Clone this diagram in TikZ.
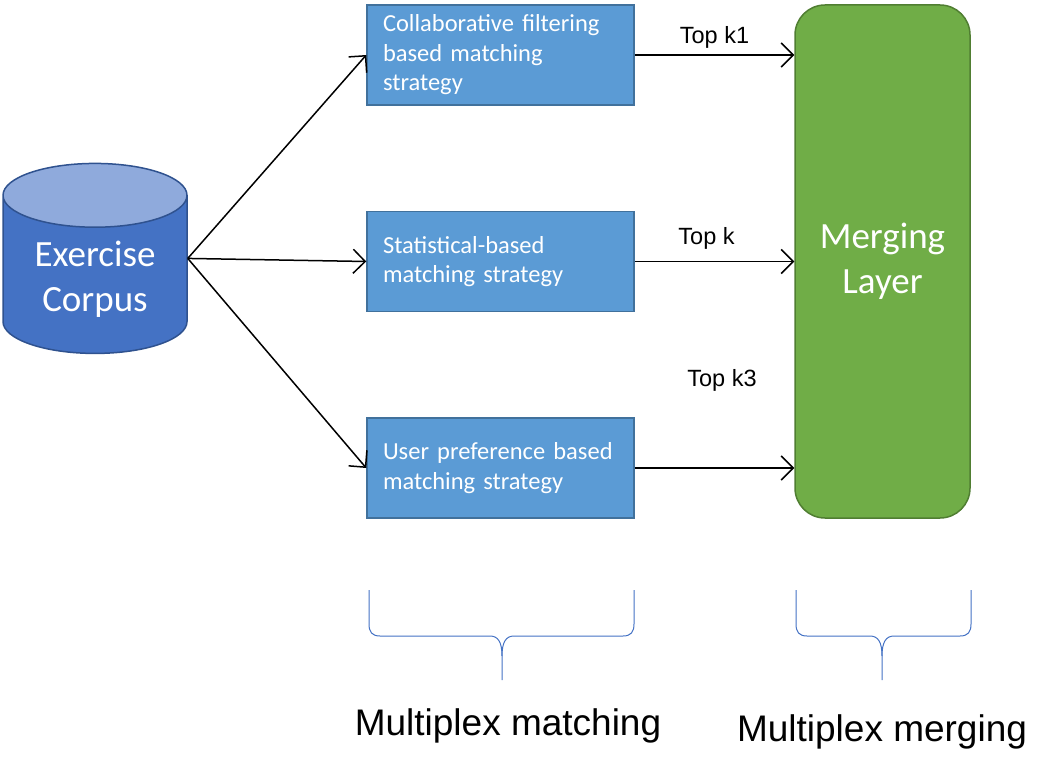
\documentclass[tikz,border=0pt]{standalone}
\usepackage{fontspec}
\setmainfont{Liberation Sans}
\newfontfamily\calibri{Carlito}
\usetikzlibrary{shapes.geometric,arrows.meta}

\definecolor{corpusblue}{HTML}{4472C4}
\definecolor{corpustop}{HTML}{8FAADC}
\definecolor{corpusline}{HTML}{2F528F}
\definecolor{boxblue}{HTML}{5B9BD5}
\definecolor{boxline}{HTML}{41719C}
\definecolor{mergegreen}{HTML}{70AD47}
\definecolor{mergeline}{HTML}{507E32}

\tikzset{
  strategy/.style={draw=boxline,line width=1.5pt,fill=boxblue,text=white,
    font=\calibri\fontsize{24.5}{29.5}\selectfont,align=left,
    minimum width=267pt,minimum height=100pt,text width=235pt,inner xsep=16pt},
  topk/.style={font=\fontsize{23.5}{28}\selectfont},
  flow/.style={line width=1.5pt,-{Straight Barb[length=12pt,width=24pt,line width=1.5pt]}},
  bracket/.style={draw=corpusblue,line width=1pt},
}

\begin{document}
\begin{tikzpicture}[x=1pt,y=-1pt]
\useasboundingbox (0,0) rectangle (1064,775);

% exercise corpus
\node[cylinder,shape border rotate=90,aspect=0.5,draw=corpusline,line width=1.5pt,
  cylinder uses custom fill,cylinder body fill=corpusblue,cylinder end fill=corpustop,
  minimum width=184pt,minimum height=190pt,text=white,align=center,
  font=\calibri\fontsize{37}{45}\selectfont] (corpus) at (95,279) {Exercise\\Corpus};
\coordinate (src) at (corpus.east |- corpus.shape center);

% matching strategies
\node[strategy] (cf) at (500.5,55) {Collaborative filtering\\based matching\\strategy};
\node[strategy] (stat) at (500.5,261.5) {Statistical-based\\matching strategy};
\node[strategy] (user) at (500.5,468) {User preference based\\matching strategy};

% merging layer
\node[draw=mergeline,line width=1.5pt,fill=mergegreen,rounded corners=30pt,
  minimum width=175pt,minimum height=513pt,text=white,align=center,
  font=\calibri\fontsize{37}{45}\selectfont] (merge) at (882.5,261.5) {Merging\\Layer};

% corpus to strategies
\draw[flow] (src) -- (cf.west);
\draw[flow] (src) -- (stat.west);
\draw[flow] (src) -- (user.west);

% strategies to merging layer
\draw[flow] (cf.east) -- (cf.east -| merge.west) node[midway,above=3pt,topk] {Top k1};
\draw[flow] (stat.east) -- (stat.east -| merge.west) node[pos=0.45,above=8pt,topk] {Top k};
\draw[flow] (user.east) -- (user.east -| merge.west);
\node[topk] (k3) at (722,380) {Top k3};

% braces
\draw[bracket] (369,590) -- (369,624) .. controls (369,632) and (372,636) .. (380,636)
  -- (490,636) .. controls (498,636) and (502,642) .. (502,656) -- (502,680);
\draw[bracket] (634,590) -- (634,624) .. controls (634,632) and (631,636) .. (623,636)
  -- (514,636) .. controls (506,636) and (502,642) .. (502,656);
\draw[bracket] (796,590) -- (796,624) .. controls (796,632) and (799,636) .. (807,636)
  -- (870,636) .. controls (878,636) and (882,642) .. (882,656) -- (882,680);
\draw[bracket] (971,590) -- (971,624) .. controls (971,632) and (968,636) .. (960,636)
  -- (894,636) .. controls (886,636) and (882,642) .. (882,656);

\node[font=\fontsize{37}{44}\selectfont] (matching) at (508,726) {Multiplex matching};
\node[font=\fontsize{37}{44}\selectfont] (merging) at (882,732) {Multiplex merging};
\end{tikzpicture}
\end{document}
